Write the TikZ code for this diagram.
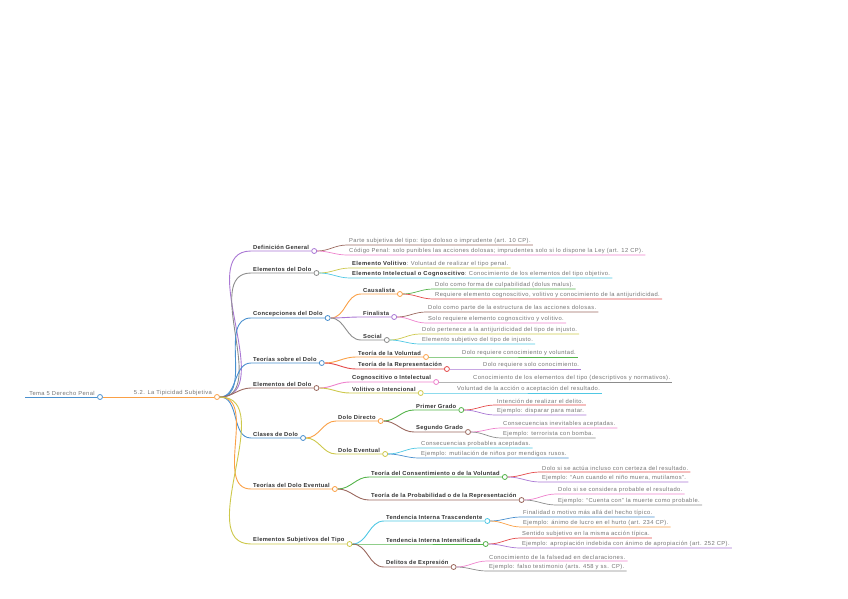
\documentclass[tikz,border=0pt]{standalone}
\usepackage{fontspec}
\setmainfont{Liberation Sans}
\newfontfamily\leaffont[LetterSpace=7]{Liberation Sans}
\newfontfamily\topicfont[LetterSpace=5]{Liberation Sans}
\usetikzlibrary{positioning}
\definecolor{mmblue}{RGB}{74,144,206}
\definecolor{mmorange}{RGB}{250,160,70}
\definecolor{mmgreen}{RGB}{85,180,75}
\definecolor{mmred}{RGB}{228,75,75}
\definecolor{mmpurple}{RGB}{170,120,212}
\definecolor{mmbrown}{RGB}{155,105,95}
\definecolor{mmpink}{RGB}{238,130,205}
\definecolor{mmgray}{RGB}{140,140,140}
\definecolor{mmolive}{RGB}{205,200,75}
\definecolor{mmcyan}{RGB}{80,200,228}
\begin{document}
\begin{tikzpicture}[x=1pt, y=-1pt,
  topic/.style={anchor=south west, inner xsep=2pt, inner ysep=1.3pt, font=\fontsize{5.8}{7}\topicfont\bfseries, text=black!80},
  leaf/.style={anchor=south west, inner xsep=2pt, inner ysep=1.3pt, font=\fontsize{5.8}{7}\leaffont, text=black!55},
  dot/.style={circle, draw=#1, fill=white, line width=0.8pt, inner sep=0pt, minimum size=5pt},
  link/.style={#1, line width=0.9pt},
  twig/.style={#1, line width=0.7pt}]
\useasboundingbox (0,0) rectangle (848,599);
% Root
\coordinate (start) at (25,397);
\node[leaf, anchor=south east] (tema) at (97,397) {Tema 5 Derecho Penal};
\node[dot=mmblue] (tema-o) at (100,397) {};
\draw[link=mmblue] (start) -- (tema-o);
\node[leaf, anchor=south east] (sub) at (214,397) {5.2. La Tipicidad Subjetiva};
\node[dot=mmorange] (sub-o) at (217,397) {};
\draw[link=mmorange] (tema-o) -- (sub-o);
% Definicion General
\node[topic] (def) at (251,251) {Definición General};
\node[dot=mmpurple, right=0pt of def.south east] (def-o) {};
\draw[link=mmpurple] (sub-o) to[out=0,in=180] (def.south west) -- (def-o);
\node[leaf] (def-a) at (347,245) {Parte subjetiva del tipo: tipo doloso o imprudente (art. 10 CP).};
\node[leaf] (def-b) at (347,255) {Código Penal: solo punibles las acciones dolosas; imprudentes solo si lo dispone la Ley (art. 12 CP).};
\draw[twig=mmbrown] (def-o) to[out=0,in=180] (def-a.south west) -- (def-a.south east);
\draw[twig=mmpink] (def-o) to[out=0,in=180] (def-b.south west) -- (def-b.south east);
% Elementos del Dolo
\node[topic] (ele) at (251,273) {Elementos del Dolo};
\node[dot=mmgray, right=0pt of ele.south east] (ele-o) {};
\draw[link=mmgray] (sub-o) to[out=0,in=180] (ele.south west) -- (ele-o);
\node[leaf] (ele-a) at (350,268) {\textbf{\color{black!80}Elemento Volitivo}: Voluntad de realizar el tipo penal.};
\node[leaf] (ele-b) at (350,278) {\textbf{\color{black!80}Elemento Intelectual o Cognoscitivo}: Conocimiento de los elementos del tipo objetivo.};
\draw[twig=mmolive] (ele-o) to[out=0,in=180] (ele-a.south west) -- (ele-a.south east);
\draw[twig=mmcyan] (ele-o) to[out=0,in=180] (ele-b.south west) -- (ele-b.south east);
% Concepciones del Dolo
\node[topic] (con) at (251,318) {Concepciones del Dolo};
\node[dot=mmblue, right=0pt of con.south east] (con-o) {};
\draw[link=mmblue] (sub-o) to[out=0,in=180] (con.south west) -- (con-o);
\node[topic] (caus) at (361,294) {Causalista};
\node[dot=mmorange, right=0pt of caus.south east] (caus-o) {};
\draw[link=mmorange] (con-o) to[out=0,in=180] (caus.south west) -- (caus-o);
\node[leaf] (caus-a) at (433,289) {Dolo como forma de culpabilidad (dolus malus).};
\node[leaf] (caus-b) at (433,299) {Requiere elemento cognoscitivo, volitivo y conocimiento de la antijuridicidad.};
\draw[twig=mmgreen] (caus-o) to[out=0,in=180] (caus-a.south west) -- (caus-a.south east);
\draw[twig=mmred] (caus-o) to[out=0,in=180] (caus-b.south west) -- (caus-b.south east);
\node[topic] (fin) at (361,317) {Finalista};
\node[dot=mmpurple, right=0pt of fin.south east] (fin-o) {};
\draw[link=mmpurple] (con-o) to[out=0,in=180] (fin.south west) -- (fin-o);
\node[leaf] (fin-a) at (426,312) {Dolo como parte de la estructura de las acciones dolosas.};
\node[leaf] (fin-b) at (426,323) {Solo requiere elemento cognoscitivo y volitivo.};
\draw[twig=mmbrown] (fin-o) to[out=0,in=180] (fin-a.south west) -- (fin-a.south east);
\draw[twig=mmpink] (fin-o) to[out=0,in=180] (fin-b.south west) -- (fin-b.south east);
\node[topic] (soc) at (361,340) {Social};
\node[dot=mmgray, right=0pt of soc.south east] (soc-o) {};
\draw[link=mmgray] (con-o) to[out=0,in=180] (soc.south west) -- (soc-o);
\node[leaf] (soc-a) at (420,334) {Dolo pertenece a la antijuridicidad del tipo de injusto.};
\node[leaf] (soc-b) at (420,344) {Elemento subjetivo del tipo de injusto.};
\draw[twig=mmolive] (soc-o) to[out=0,in=180] (soc-a.south west) -- (soc-a.south east);
\draw[twig=mmcyan] (soc-o) to[out=0,in=180] (soc-b.south west) -- (soc-b.south east);
% Teorias sobre el Dolo
\node[topic] (teo) at (251,363) {Teorías sobre el Dolo};
\node[dot=mmblue, right=0pt of teo.south east] (teo-o) {};
\draw[link=mmblue] (sub-o) to[out=0,in=180] (teo.south west) -- (teo-o);
\node[topic] (tvol) at (356,357) {Teoría de la Voluntad};
\node[dot=mmorange, right=0pt of tvol.south east] (tvol-o) {};
\draw[link=mmorange] (teo-o) to[out=0,in=180] (tvol.south west) -- (tvol-o);
\node[leaf] (tvol-a) at (460,357) {Dolo requiere conocimiento y voluntad.};
\draw[twig=mmgreen] (tvol-o) -- (tvol-a.south west) -- (tvol-a.south east);
\node[topic] (trep) at (356,369) {Teoría de la Representación};
\node[dot=mmred, right=0pt of trep.south east] (trep-o) {};
\draw[link=mmred] (teo-o) to[out=0,in=180] (trep.south west) -- (trep-o);
\node[leaf] (trep-a) at (481,369) {Dolo requiere solo conocimiento.};
\draw[twig=mmpurple] (trep-o) -- (trep-a.south west) -- (trep-a.south east);
% Elementos del Dolo
\node[topic] (eld) at (251,388) {Elementos del Dolo};
\node[dot=mmbrown, right=0pt of eld.south east] (eld-o) {};
\draw[link=mmbrown] (sub-o) to[out=0,in=180] (eld.south west) -- (eld-o);
\node[topic] (cog) at (350,382) {Cognoscitivo o Intelectual};
\node[dot=mmpink, right=0pt of cog.south east] (cog-o) {};
\draw[link=mmpink] (eld-o) to[out=0,in=180] (cog.south west) -- (cog-o);
\node[leaf] (cog-a) at (471,382) {Conocimiento de los elementos del tipo (descriptivos y normativos).};
\draw[twig=mmgray] (cog-o) -- (cog-a.south west) -- (cog-a.south east);
\node[topic] (vol) at (350,393) {Volitivo o Intencional};
\node[dot=mmolive, right=0pt of vol.south east] (vol-o) {};
\draw[link=mmolive] (eld-o) to[out=0,in=180] (vol.south west) -- (vol-o);
\node[leaf] (vol-a) at (455,393) {Voluntad de la acción o aceptación del resultado.};
\draw[twig=mmcyan] (vol-o) -- (vol-a.south west) -- (vol-a.south east);
% Clases de Dolo
\node[topic] (cla) at (251,438) {Clases de Dolo};
\node[dot=mmblue, right=0pt of cla.south east] (cla-o) {};
\draw[link=mmblue] (sub-o) to[out=0,in=180] (cla.south west) -- (cla-o);
\node[topic] (dd) at (336,421) {Dolo Directo};
\node[dot=mmorange, right=0pt of dd.south east] (dd-o) {};
\draw[link=mmorange] (cla-o) to[out=0,in=180] (dd.south west) -- (dd-o);
\node[topic] (pg) at (414,410) {Primer Grado};
\node[dot=mmgreen, right=0pt of pg.south east] (pg-o) {};
\draw[link=mmgreen] (dd-o) to[out=0,in=180] (pg.south west) -- (pg-o);
\node[leaf] (pg-a) at (495,405) {Intención de realizar el delito.};
\node[leaf] (pg-b) at (495,415) {Ejemplo: disparar para matar.};
\draw[twig=mmred] (pg-o) to[out=0,in=180] (pg-a.south west) -- (pg-a.south east);
\draw[twig=mmpurple] (pg-o) to[out=0,in=180] (pg-b.south west) -- (pg-b.south east);
\node[topic] (sg) at (414,432) {Segundo Grado};
\node[dot=mmbrown, right=0pt of sg.south east] (sg-o) {};
\draw[link=mmbrown] (dd-o) to[out=0,in=180] (sg.south west) -- (sg-o);
\node[leaf] (sg-a) at (501,428) {Consecuencias inevitables aceptadas.};
\node[leaf] (sg-b) at (501,438) {Ejemplo: terrorista con bomba.};
\draw[twig=mmpink] (sg-o) to[out=0,in=180] (sg-a.south west) -- (sg-a.south east);
\draw[twig=mmgray] (sg-o) to[out=0,in=180] (sg-b.south west) -- (sg-b.south east);
\node[topic] (de) at (336,454) {Dolo Eventual};
\node[dot=mmolive, right=0pt of de.south east] (de-o) {};
\draw[link=mmolive] (cla-o) to[out=0,in=180] (de.south west) -- (de-o);
\node[leaf] (de-a) at (419,448) {Consecuencias probables aceptadas.};
\node[leaf] (de-b) at (419,458) {Ejemplo: mutilación de niños por mendigos rusos.};
\draw[twig=mmcyan] (de-o) to[out=0,in=180] (de-a.south west) -- (de-a.south east);
\draw[twig=mmblue] (de-o) to[out=0,in=180] (de-b.south west) -- (de-b.south east);
% Teorias del Dolo Eventual
\node[topic] (tde) at (251,489) {Teorías del Dolo Eventual};
\node[dot=mmorange, right=0pt of tde.south east] (tde-o) {};
\draw[link=mmorange] (sub-o) to[out=0,in=180] (tde.south west) -- (tde-o);
\node[topic] (tcv) at (369,477) {Teoría del Consentimiento o de la Voluntad};
\node[dot=mmgreen, right=0pt of tcv.south east] (tcv-o) {};
\draw[link=mmgreen] (tde-o) to[out=0,in=180] (tcv.south west) -- (tcv-o);
\node[leaf] (tcv-a) at (540,472) {Dolo si se actúa incluso con certeza del resultado.};
\node[leaf] (tcv-b) at (540,482) {Ejemplo: “Aun cuando el niño muera, mutilamos”.};
\draw[twig=mmred] (tcv-o) to[out=0,in=180] (tcv-a.south west) -- (tcv-a.south east);
\draw[twig=mmpurple] (tcv-o) to[out=0,in=180] (tcv-b.south west) -- (tcv-b.south east);
\node[topic] (tpr) at (369,500) {Teoría de la Probabilidad o de la Representación};
\node[dot=mmbrown, right=0pt of tpr.south east] (tpr-o) {};
\draw[link=mmbrown] (tde-o) to[out=0,in=180] (tpr.south west) -- (tpr-o);
\node[leaf] (tpr-a) at (556,494) {Dolo si se considera probable el resultado.};
\node[leaf] (tpr-b) at (556,505) {Ejemplo: “Cuenta con” la muerte como probable.};
\draw[twig=mmpink] (tpr-o) to[out=0,in=180] (tpr-a.south west) -- (tpr-a.south east);
\draw[twig=mmgray] (tpr-o) to[out=0,in=180] (tpr-b.south west) -- (tpr-b.south east);
% Elementos Subjetivos del Tipo
\node[topic] (est) at (251,544) {Elementos Subjetivos del Tipo};
\node[dot=mmolive, right=0pt of est.south east] (est-o) {};
\draw[link=mmolive] (sub-o) to[out=0,in=180] (est.south west) -- (est-o);
\node[topic] (tit) at (384,521) {Tendencia Interna Trascendente};
\node[dot=mmcyan, right=0pt of tit.south east] (tit-o) {};
\draw[link=mmcyan] (est-o) to[out=0,in=180] (tit.south west) -- (tit-o);
\node[leaf] (tit-a) at (521,517) {Finalidad o motivo más allá del hecho típico.};
\node[leaf] (tit-b) at (521,527) {Ejemplo: ánimo de lucro en el hurto (art. 234 CP).};
\draw[twig=mmblue] (tit-o) to[out=0,in=180] (tit-a.south west) -- (tit-a.south east);
\draw[twig=mmorange] (tit-o) to[out=0,in=180] (tit-b.south west) -- (tit-b.south east);
\node[topic] (tii) at (384,544) {Tendencia Interna Intensificada};
\node[dot=mmgreen, right=0pt of tii.south east] (tii-o) {};
\draw[link=mmgreen] (est-o) to[out=0,in=180] (tii.south west) -- (tii-o);
\node[leaf] (tii-a) at (520,538) {Sentido subjetivo en la misma acción típica.};
\node[leaf] (tii-b) at (520,548) {Ejemplo: apropiación indebida con ánimo de apropiación (art. 252 CP).};
\draw[twig=mmred] (tii-o) to[out=0,in=180] (tii-a.south west) -- (tii-a.south east);
\draw[twig=mmpurple] (tii-o) to[out=0,in=180] (tii-b.south west) -- (tii-b.south east);
\node[topic] (dex) at (384,567) {Delitos de Expresión};
\node[dot=mmbrown, right=0pt of dex.south east] (dex-o) {};
\draw[link=mmbrown] (est-o) to[out=0,in=180] (dex.south west) -- (dex-o);
\node[leaf] (dex-a) at (487,561) {Conocimiento de la falsedad en declaraciones.};
\node[leaf] (dex-b) at (487,571) {Ejemplo: falso testimonio (arts. 458 y ss. CP).};
\draw[twig=mmpink] (dex-o) to[out=0,in=180] (dex-a.south west) -- (dex-a.south east);
\draw[twig=mmgray] (dex-o) to[out=0,in=180] (dex-b.south west) -- (dex-b.south east);
\end{tikzpicture}
\end{document}
